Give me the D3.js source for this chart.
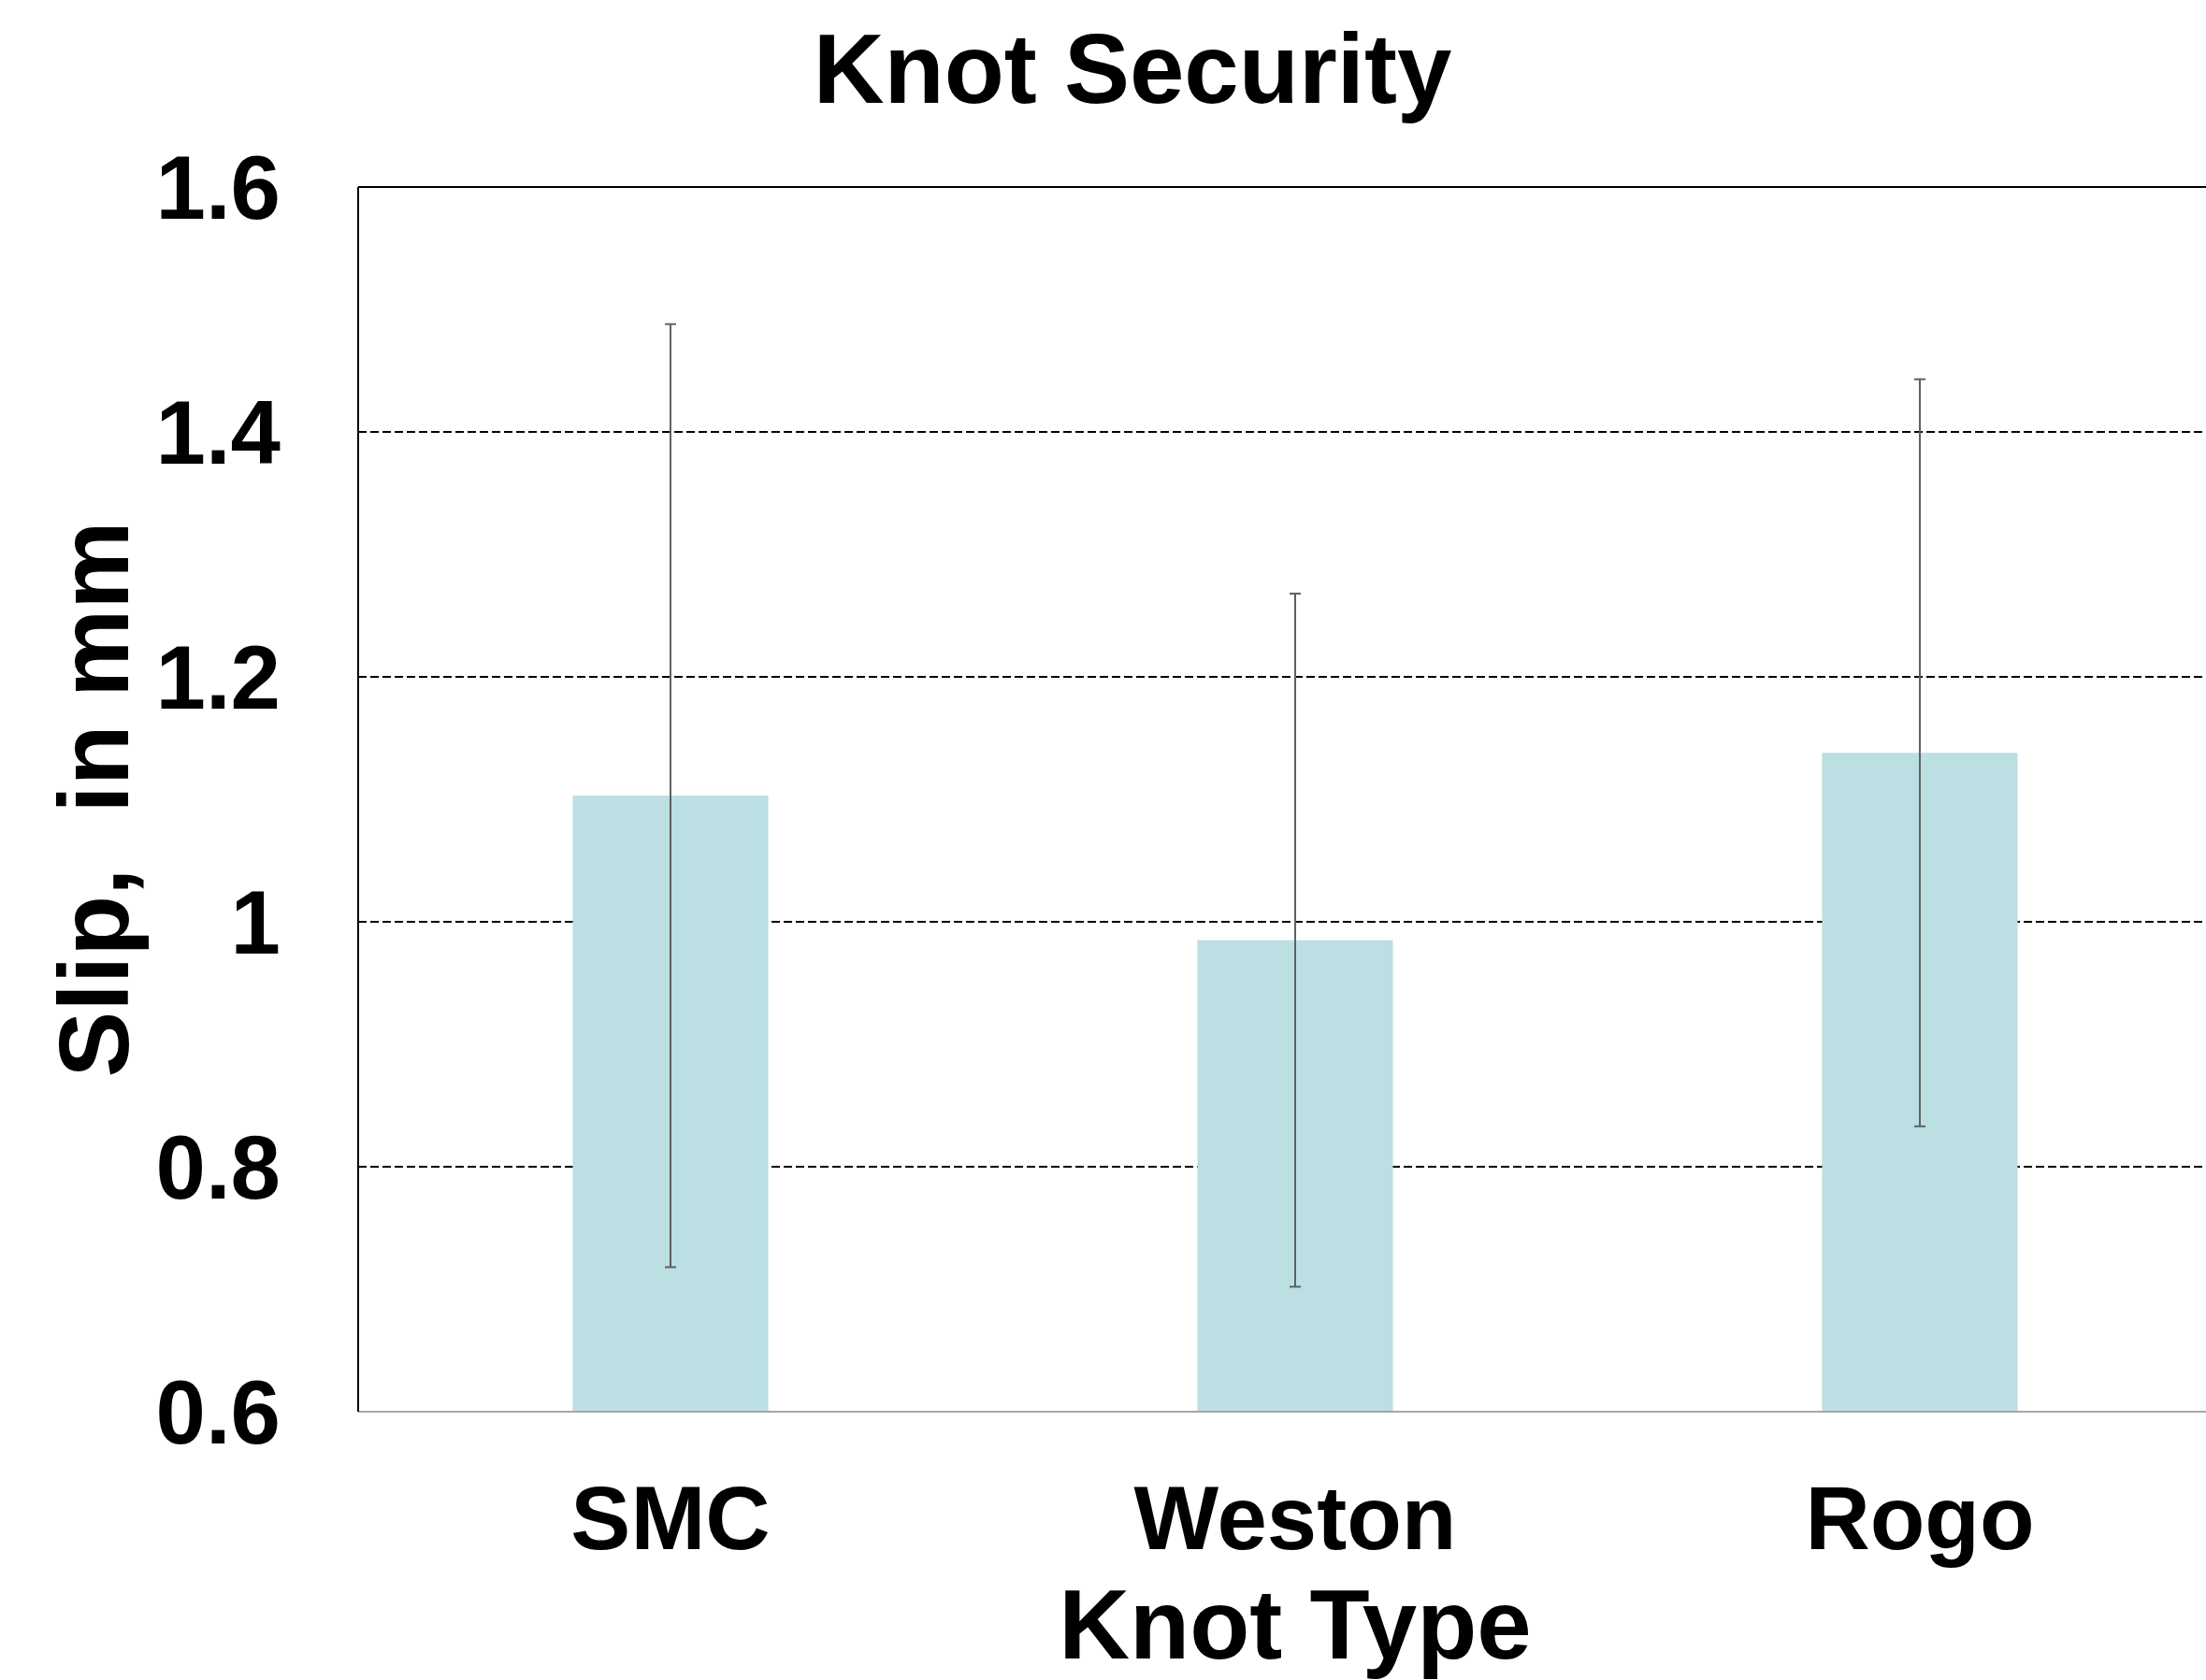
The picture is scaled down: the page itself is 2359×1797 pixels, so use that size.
<!DOCTYPE html>
<html>
<head>
<meta charset="utf-8">
<script src="https://cdn.jsdelivr.net/npm/d3@7"></script>
<style>
  html, body { margin: 0; padding: 0; background: #fff; }
  svg { display: block; }
  text { font-family: "Liberation Sans", Arial, sans-serif; font-weight: bold; fill: #000; }
</style>
</head>
<body>
<script>
const categories = ["SMC", "Weston", "Rogo"];
const means = [1.103, 0.985, 1.138];
const errors = [0.385, 0.283, 0.305];
const yTicks = [0.6, 0.8, 1, 1.2, 1.4, 1.6];
const gridTicks = [0.8, 1, 1.2, 1.4];
const chartTitle = "Knot Security";
const xTitle = "Knot Type";
const yTitle = "Slip,  in mm";

const W = 2359, H = 1797;
const plot = { left: 383, top: 200, right: 2387, bottom: 1510 };

const svg = d3.select("body").append("svg").attr("width", W).attr("height", H);

const x = d3.scaleBand().domain(categories).range([plot.left, plot.right]).padding(0);
const y = d3.scaleLinear().domain([0.6, 1.6]).range([plot.bottom, plot.top]);
const barW = x.bandwidth() * 0.313;

// gridlines
svg.append("g").selectAll("line").data(gridTicks).join("line")
  .attr("x1", plot.left).attr("x2", plot.right)
  .attr("y1", d => y(d)).attr("y2", d => y(d))
  .attr("stroke", "#000").attr("stroke-width", 1.8)
  .attr("stroke-dasharray", "9,4");

// bars
svg.append("g").selectAll("rect").data(categories).join("rect")
  .attr("x", (d) => x(d) + x.bandwidth() / 2 - barW / 2)
  .attr("width", barW)
  .attr("y", (d, i) => y(means[i]))
  .attr("height", (d, i) => plot.bottom - y(means[i]))
  .attr("fill", "#BBDFE2");

// error bars
const eg = svg.append("g").attr("stroke", "#606060").attr("stroke-width", 2);
categories.forEach((c, i) => {
  const cx = x(c) + x.bandwidth() / 2;
  const hi = y(means[i] + errors[i]), lo = y(means[i] - errors[i]);
  eg.append("line").attr("x1", cx).attr("x2", cx).attr("y1", hi).attr("y2", lo);
  eg.append("line").attr("x1", cx - 6).attr("x2", cx + 6).attr("y1", hi).attr("y2", hi);
  eg.append("line").attr("x1", cx - 6).attr("x2", cx + 6).attr("y1", lo).attr("y2", lo);
});

// frame: top border, left axis, bottom axis
svg.append("line").attr("x1", plot.left).attr("x2", plot.right)
  .attr("y1", plot.top).attr("y2", plot.top).attr("stroke", "#000").attr("stroke-width", 2);
svg.append("line").attr("x1", plot.left).attr("x2", plot.right)
  .attr("y1", plot.bottom).attr("y2", plot.bottom).attr("stroke", "#A6A6A6").attr("stroke-width", 2);
svg.append("line").attr("x1", plot.left).attr("x2", plot.left)
  .attr("y1", plot.top).attr("y2", plot.bottom).attr("stroke", "#000").attr("stroke-width", 2);

// y tick labels
const yAxis = d3.axisLeft(y).tickValues(yTicks).tickSize(0).tickPadding(0)
  .tickFormat(d => String(d));
const yg = svg.append("g").attr("transform", `translate(${plot.left - 83},0)`).call(yAxis);
yg.select(".domain").remove();
yg.selectAll("text").attr("font-size", 96).attr("dy", "0.35em")
  .style("font-family", '"Liberation Sans", Arial, sans-serif').style("font-weight", "bold").attr("fill", "#000");

// x tick labels
const xAxis = d3.axisBottom(x).tickSize(0).tickPadding(0);
const xg = svg.append("g").attr("transform", `translate(0,${1657})`).call(xAxis);
xg.select(".domain").remove();
xg.selectAll("text").attr("font-size", 96).attr("dy", 0).attr("y", 0)
  .style("font-family", '"Liberation Sans", Arial, sans-serif').style("font-weight", "bold").attr("fill", "#000");

// titles
svg.append("text").attr("x", 1211).attr("y", 110).attr("text-anchor", "middle")
  .attr("font-size", 105).text(chartTitle);
svg.append("text").attr("x", (plot.left + plot.right) / 2).attr("y", 1774).attr("text-anchor", "middle")
  .attr("font-size", 105).text(xTitle);
svg.append("text").attr("transform", `translate(137,${(plot.top + plot.bottom) / 2}) rotate(-90)`)
  .attr("text-anchor", "middle").attr("font-size", 106).style("white-space", "pre").text(yTitle);
</script>
</body>
</html>
